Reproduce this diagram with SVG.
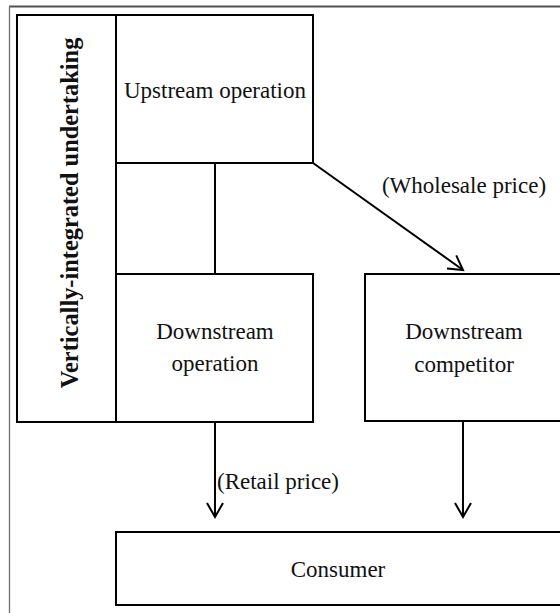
<svg xmlns="http://www.w3.org/2000/svg" width="560" height="613" viewBox="0 0 560 613">
<style>
.box{fill:#fff;stroke:#000;stroke-width:2}
.t{font-family:"Liberation Serif","Times New Roman",serif;font-size:23px;fill:#111;text-anchor:middle}
.b{font-weight:bold;font-size:24.4px}
.c{stroke:#000;stroke-width:2;fill:none}
</style>
<defs>
<marker id="ah" markerUnits="userSpaceOnUse" markerWidth="30" markerHeight="30" viewBox="-20 -15 30 30" refX="0" refY="0" orient="auto">
<path d="M-14,-8 L0,0 L-14,8" fill="none" stroke="#000" stroke-width="2"/>
</marker>
</defs>
<rect x="0" y="0" width="560" height="613" fill="#fff"/>
<g id="frame">
<line x1="9" y1="6.5" x2="560" y2="6.5" stroke="#505050" stroke-width="2"/>
<line x1="9.5" y1="6" x2="9.5" y2="613" stroke="#707070" stroke-width="1.3"/>
</g>
<g id="vertically-integrated">
<rect class="box" x="17" y="15" width="99" height="407"/>
<text class="t b" transform="translate(78,213) rotate(-90)">Vertically-integrated undertaking</text>
</g>
<g id="upstream">
<rect class="box" x="116" y="15" width="197" height="148"/>
<text class="t" x="215" y="98">Upstream operation</text>
</g>
<g id="downstream-operation">
<rect class="box" x="116" y="274" width="197" height="148"/>
<text class="t" x="215" y="339">Downstream</text>
<text class="t" x="215" y="371">operation</text>
</g>
<g id="downstream-competitor">
<rect class="box" x="365" y="274" width="197" height="147"/>
<text class="t" x="464" y="339">Downstream</text>
<text class="t" x="464" y="372">competitor</text>
</g>
<g id="consumer">
<rect class="box" x="116" y="532" width="446" height="73"/>
<text class="t" x="338" y="577">Consumer</text>
</g>
<g id="connectors">
<line class="c" x1="215" y1="163" x2="215" y2="274"/>
<line class="c" x1="313" y1="163" x2="463" y2="270" marker-end="url(#ah)"/>
<text class="t" x="464" y="193">(Wholesale price)</text>
<line class="c" x1="215" y1="422" x2="215" y2="517" marker-end="url(#ah)"/>
<text class="t" x="278" y="489">(Retail price)</text>
<line class="c" x1="463" y1="421" x2="463" y2="517" marker-end="url(#ah)"/>
</g>
</svg>
